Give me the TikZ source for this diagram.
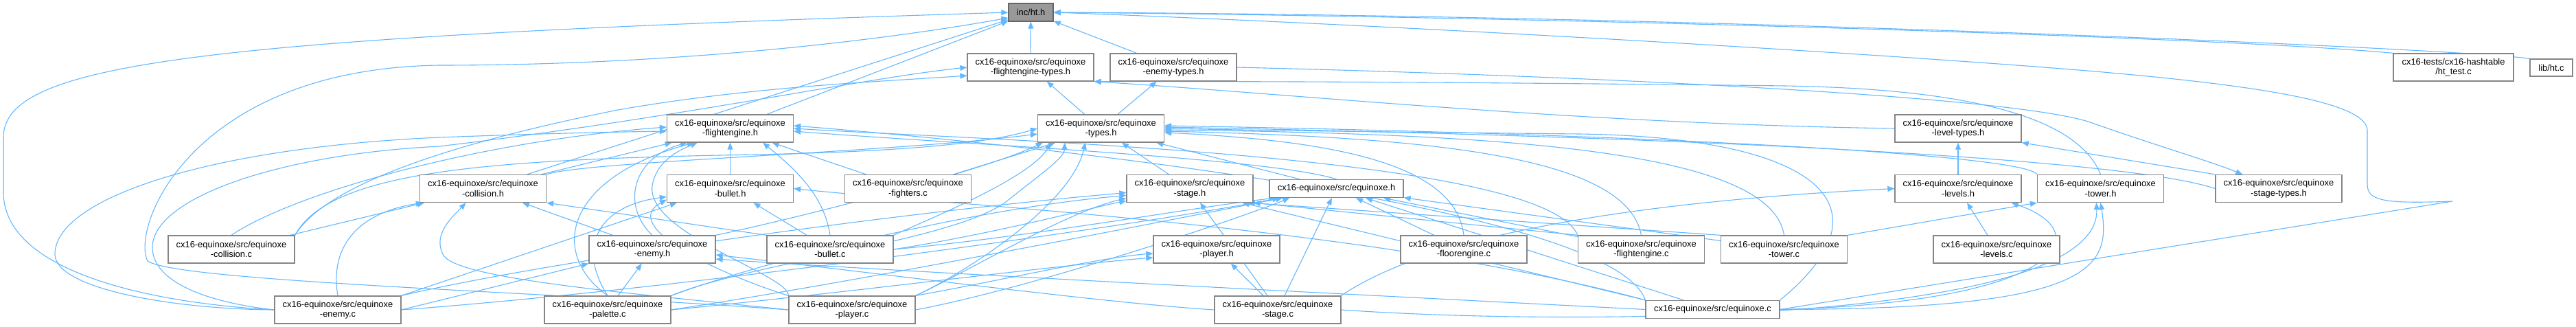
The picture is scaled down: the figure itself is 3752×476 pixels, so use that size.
\documentclass[tikz,border=0pt]{standalone}
\usepackage{fontspec}
\setmainfont{Liberation Sans}
\usetikzlibrary{arrows.meta}
\pgfdeclarelayer{edges}
\pgfsetlayers{edges,main}
\definecolor{eblue}{HTML}{63B8FF}
\definecolor{bgray}{HTML}{858585}
\definecolor{rootfill}{HTML}{999999}
\definecolor{rootdraw}{HTML}{666666}
\begin{document}
\begin{tikzpicture}[x=1pt,y=-1pt,
  box/.style={draw=bgray, fill=white, line width=1.3pt, minimum width=184pt, minimum height=40pt, inner sep=0pt, align=center, font=\fontsize{12.9pt}{14.5pt}\selectfont},
  onebox/.style={box, minimum height=26pt, minimum width=195pt},
  rootbox/.style={box, fill=rootfill, draw=rootdraw, minimum width=65pt, minimum height=26pt},
  e/.style={draw=eblue, line width=1.1pt, -{Triangle[length=10pt,width=8pt]}}]
\useasboundingbox (0,0) rectangle (3752,476);
% nodes
\node[rootbox] (A) at (1501.5,18) {inc/ht.h};
\node[box] (FT) at (1501,98) {cx16-equinoxe/src/equinoxe\\-flightengine-types.h};
\node[box] (ET) at (1709,98) {cx16-equinoxe/src/equinoxe\\-enemy-types.h};
\node[box, minimum width=175pt] (AB) at (3573.5,98) {cx16-tests/cx16-hashtable\\/ht\_test.c};
\node[box, minimum width=62pt, minimum height=25pt] (AC) at (3716,98.5) {lib/ht.c};
\node[box] (FE) at (1063.5,187) {cx16-equinoxe/src/equinoxe\\-flightengine.h};
\node[box] (TY) at (1603.5,187) {cx16-equinoxe/src/equinoxe\\-types.h};
\node[box] (LT) at (2852,187) {cx16-equinoxe/src/equinoxe\\-level-types.h};
\node[box] (CH) at (703.5,274.5) {cx16-equinoxe/src/equinoxe\\-collision.h};
\node[box] (BH) at (1063.5,274.5) {cx16-equinoxe/src/equinoxe\\-bullet.h};
\node[box] (FC) at (1322.5,274.5) {cx16-equinoxe/src/equinoxe\\-fighters.c};
\node[box] (SH) at (1733,274.5) {cx16-equinoxe/src/equinoxe\\-stage.h};
\node[onebox] (EH) at (1946.5,274.5) {cx16-equinoxe/src/equinoxe.h};
\node[box] (LH) at (2852,274.5) {cx16-equinoxe/src/equinoxe\\-levels.h};
\node[box] (TH) at (3059.5,274.5) {cx16-equinoxe/src/equinoxe\\-tower.h};
\node[box] (STT) at (3319,274.5) {cx16-equinoxe/src/equinoxe\\-stage-types.h};
\node[box] (CC) at (337,363) {cx16-equinoxe/src/equinoxe\\-collision.c};
\node[box] (EnH) at (950,363) {cx16-equinoxe/src/equinoxe\\-enemy.h};
\node[box] (BC) at (1209,363) {cx16-equinoxe/src/equinoxe\\-bullet.c};
\node[box] (PH) at (1772,363) {cx16-equinoxe/src/equinoxe\\-player.h};
\node[box] (FLC) at (2132,363) {cx16-equinoxe/src/equinoxe\\-floorengine.c};
\node[box] (FEC) at (2390.5,363) {cx16-equinoxe/src/equinoxe\\-flightengine.c};
\node[box] (TC) at (2598.5,363) {cx16-equinoxe/src/equinoxe\\-tower.c};
\node[box] (LC) at (2908,363) {cx16-equinoxe/src/equinoxe\\-levels.c};
\node[box] (EC) at (492,451) {cx16-equinoxe/src/equinoxe\\-enemy.c};
\node[box] (PC) at (885,451) {cx16-equinoxe/src/equinoxe\\-palette.c};
\node[box] (PLC) at (1241,451) {cx16-equinoxe/src/equinoxe\\-player.c};
\node[box] (SC) at (1861,451) {cx16-equinoxe/src/equinoxe\\-stage.c};
\node[onebox] (EQC) at (2494.5,450.5) {cx16-equinoxe/src/equinoxe.c};
\begin{pgfonlayer}{edges}
\fill[white] (0,0) rectangle (3752,476);
% into ht.h
\draw[e] (FT) -- (A);
\draw[e] (ET) -- (A);
\draw[e] (AB.north west) .. controls (3250,55) and (2300,25) .. (A.east);
\draw[e] (AC.north west) .. controls (3600,72) and (2500,22) .. (A.east);
\draw[e] (EQC.east) -- (3572,293) .. controls (3470,297) and (3448,292) .. (3448,268) -- (3448,190) .. controls (3448,150) and (3300,125) .. (3040,103) .. controls (2700,75) and (2000,35) .. (A.east);
\draw[e] (EC.west) .. controls (200,440) and (5,390) .. (5,280) -- (5,200) .. controls (5,90) and (300,55) .. (A.west);
\draw[e] (PLC.west) .. controls (800,425) and (260,410) .. (215,380) .. controls (190,330) and (280,100) .. (640,95) .. controls (950,95) and (1250,65) .. ([yshift=-8pt]A.west);
\draw[e] (CH) -- (A);
\draw[e] (FE) -- (A);
% into flightengine-types.h
\draw[e] (TY) -- (FT);
\draw[e] (LT.west) .. controls (2300,180) and (1900,138) .. (FT.south east);
\draw[e] (TH.north) .. controls (3030,180) and (2900,130) .. (2600,125) .. controls (2200,120) and (1800,118) .. (FT.south east);
\draw[e] (EC.west) .. controls (300,440) and (222,410) .. (222,360) .. controls (222,290) and (400,225) .. (640,213) .. controls (1000,170) and (1250,115) .. (FT.west);
\draw[e] (CC.north east) .. controls (480,260) and (700,200) .. (900,160) .. controls (1100,125) and (1300,118) .. ([yshift=-12pt]FT.west);
% into enemy-types.h
\draw[e] (TY) -- (ET);
% into types.h
\draw[e] (CH.north east) .. controls (850,235) and (1300,222) .. ([yshift=-8pt]TY.west);
\draw[e] (CC.north east) .. controls (480,250) and (700,232) .. (1100,225) .. controls (1350,220) and (1450,205) .. (TY.west);
\draw[e] (FC) -- (TY);
\draw[e] (PC.north east) .. controls (1100,380) and (1400,350) .. (1470,290) .. controls (1520,250) and (1550,230) .. ([xshift=40pt]TY.south west);
\draw[e] (PLC.north east) .. controls (1400,400) and (1560,300) .. ([xshift=70pt]TY.south west);
\draw[e] (BC.north east) .. controls (1350,320) and (1500,260) .. ([xshift=20pt]TY.south west);
\draw[e] (EnH.north east) .. controls (1150,320) and (1430,250) .. ([xshift=8pt]TY.south west);
\draw[e] (SH) -- (TY);
\draw[e] (EH) -- (TY);
\draw[e] (FLC.north) .. controls (2120,240) and (1950,205) .. ([yshift=-6pt]TY.east);
\draw[e] (FEC.north) .. controls (2370,230) and (2100,200) .. ([yshift=-4pt]TY.east);
\draw[e] (TC.north) .. controls (2580,220) and (2200,195) .. ([yshift=-2pt]TY.east);
\draw[e] (EQC.north east) .. controls (2760,300) and (2650,200) .. (2300,195) .. controls (2000,192) and (1850,190) .. (TY.east);
\draw[e] (STT.west) .. controls (3100,232) and (2500,200) .. ([yshift=2pt]TY.east);
\draw[e] (TH.north west) .. controls (2950,225) and (2400,195) .. ([yshift=4pt]TY.east);
% into flightengine.h
\draw[e] (EC.west) .. controls (250,450) and (80,420) .. (80,370) .. controls (80,290) and (300,215) .. (640,200) .. controls (800,194) and (900,192) .. ([yshift=-4pt]FE.west);
\draw[e] (CC.north) .. controls (430,280) and (700,205) .. ([yshift=2pt]FE.west);
\draw[e] (CH) -- (FE);
\draw[e] (EnH.north) .. controls (905,300) and (920,230) .. ([xshift=30pt]FE.south west);
\draw[e] (PC.north) .. controls (800,370) and (820,260) .. ([xshift=40pt]FE.south west);
\draw[e] (PLC.north west) .. controls (1150,400) and (940,340) .. (950,270) .. controls (955,240) and (980,222) .. ([xshift=45pt]FE.south west);
\draw[e] (BC.north) .. controls (1200,280) and (1150,240) .. ([xshift=-45pt]FE.south east);
\draw[e] (BH) -- (FE);
\draw[e] (FC) -- (FE);
\draw[e] (EH.north) .. controls (1850,230) and (1400,210) .. ([yshift=-4pt]FE.east);
\draw[e] (FEC.north west) .. controls (2250,225) and (1450,205) .. (FE.east);
\draw[e] (EQC.north west) .. controls (2350,300) and (1500,210) .. ([yshift=4pt]FE.east);
% into level-types.h
\draw[e] (LH) -- (LT);
\draw[e] (STT.north west) -- (LT.south east);
% into collision.h
\draw[e] (CC) -- (CH);
\draw[e] (EC.north) .. controls (480,360) and (520,310) .. ([xshift=5pt]CH.south west);
\draw[e] (PLC.west) .. controls (900,425) and (660,405) .. (645,370) .. controls (630,340) and (660,315) .. ([xshift=-25pt]CH.south);
\draw[e] (EnH) -- (CH);
\draw[e] (BC.north west) -- (CH.south east);
% into bullet.h
\draw[e] (EC.north east) -- ([xshift=15pt]BH.south west);
\draw[e] (PC.north) .. controls (840,360) and (870,300) .. ([yshift=-12pt]BH.west);
\draw[e] (PLC.north west) .. controls (1050,400) and (900,330) .. ([yshift=-16pt]BH.west);
\draw[e] (BC) -- (BH);
\draw[e] (EQC.north west) .. controls (2000,330) and (1400,300) .. (BH.east);
% into stage.h
\draw[e] (EC.north east) .. controls (800,380) and (1300,310) .. ([yshift=-6pt]SH.west);
\draw[e] (PC.north east) .. controls (1100,385) and (1400,305) .. ([yshift=-10pt]SH.west);
\draw[e] (PLC.north east) .. controls (1420,390) and (1550,310) .. ([yshift=-14pt]SH.west);
\draw[e] (BC.east) .. controls (1450,340) and (1600,300) .. ([yshift=-18pt]SH.west);
\draw[e] (SC) -- (SH);
\draw[e] (FEC.north west) -- (SH.south east);
\draw[e] (TC.north west) -- ([xshift=-8pt]SH.south east);
\draw[e] (EQC.north west) -- ([xshift=-16pt]SH.south east);
% into equinoxe.h
\draw[e] (EC.east) .. controls (1000,420) and (1650,330) .. ([xshift=15pt]EH.south west);
\draw[e] (PC.east) .. controls (1250,410) and (1680,325) .. ([xshift=20pt]EH.south west);
\draw[e] (PLC.east) .. controls (1500,420) and (1800,320) .. ([xshift=30pt]EH.south west);
\draw[e] (BC.east) .. controls (1500,345) and (1750,300) .. ([xshift=10pt]EH.south west);
\draw[e] (SC) -- (EH);
\draw[e] (FLC) -- (EH);
\draw[e] (FEC) -- (EH);
\draw[e] (TC) -- (EH);
\draw[e] (EQC) -- (EH);
% into levels.h
\draw[e] (LC) -- (LH);
\draw[e] (SC.north east) .. controls (2100,330) and (2450,290) .. (LH.west);
\draw[e] (EQC.east) .. controls (3000,440) and (3060,340) .. ([xshift=-15pt]LH.south east);
% into tower.h
\draw[e] (TC.north east) -- (TH.south west);
\draw[e] (EQC.east) .. controls (3050,450) and (3075,390) .. (TH.south);
\draw[e] (SC.east) .. controls (2300,475) and (3060,470) .. ([xshift=-6pt]TH.south);
% into stage-types.h
\draw[e] (ET.east) .. controls (2300,110) and (2950,140) .. (3050,180) .. controls (3150,215) and (3220,235) .. ([xshift=40pt]STT.north west);
% into enemy.h
\draw[e] (EC.east) -- (EnH.south west);
\draw[e] (PC) -- (EnH);
\draw[e] (SC.west) .. controls (1600,440) and (1300,400) .. ([yshift=-8pt]EnH.east);
\draw[e] (EQC.west) .. controls (2000,430) and (1300,395) .. ([yshift=-14pt]EnH.east);
% into player.h
\draw[e] (PLC.north east) .. controls (1450,410) and (1600,375) .. ([yshift=-6pt]PH.west);
\draw[e] (PC.east) .. controls (1200,430) and (1550,385) .. ([yshift=-12pt]PH.west);
\draw[e] (SC) -- (PH);
\end{pgfonlayer}
\end{tikzpicture}
\end{document}
